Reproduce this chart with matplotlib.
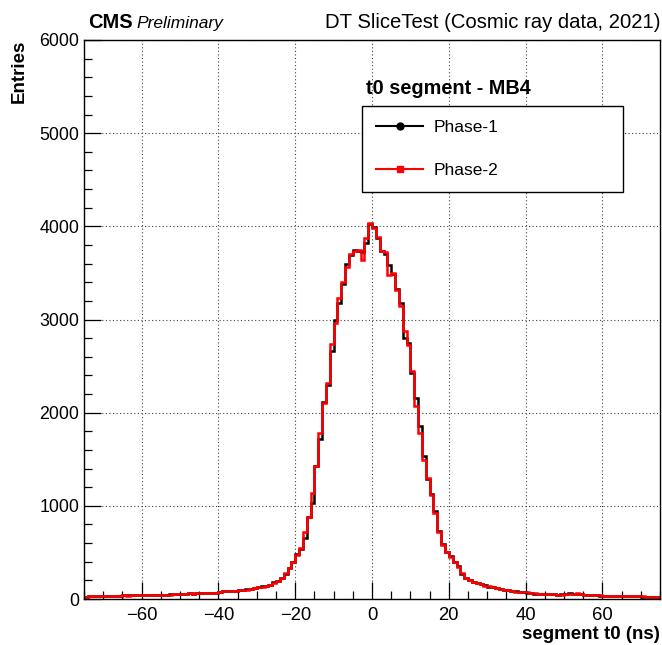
import matplotlib
matplotlib.use("Agg")
import matplotlib.pyplot as plt
import numpy as np
from matplotlib.lines import Line2D
from matplotlib.ticker import MultipleLocator

plt.rcParams["font.family"] = ["Liberation Sans", "DejaVu Sans"]

# bin edges of the segment t0 histogram (1 ns bins, -75 .. 75 ns)
bin_lo = -75
bin_hi = 75

# Phase-2 (red) entries per bin, t = -75 .. 74
phase2_tail_left = [25, 27, 28, 30, 30, 32, 33, 35, 34, 36, 38, 37, 40, 38, 40,
                    40, 42, 41, 44, 45, 43, 47, 48, 50, 52, 55, 58, 60, 58, 62,
                    63, 65, 64, 66, 68,
                    80, 82, 85, 84, 90, 95, 100, 102, 110, 120, 125, 130, 140, 155, 175, 195]
phase2_core = [222, 276, 330, 401, 473, 545, 724, 885, 1136, 1423, 1781, 2104, 2319,
               2740, 2960, 3230, 3400, 3560, 3700, 3740, 3750, 3640, 3880, 4040,
               3980, 3890, 3730, 3720, 3480, 3500, 3320, 3150, 2880, 2730, 2444,
               2068, 1781, 1495, 1297, 1118, 921, 724, 581, 509, 455, 401, 348, 276, 222]
phase2_tail_right = [205, 185, 170, 160, 145, 135, 125, 115, 105, 98, 92, 88, 80, 75,
                     72, 70, 62, 60, 58, 55, 52, 54, 50, 45, 48, 52, 58, 55, 60, 50,
                     48, 45, 42, 44, 38, 35, 36, 32, 30, 33, 28, 27, 30, 32, 29, 27,
                     25, 22, 20, 18]

# Phase-1 (black) entries: same shape, differs in a few bins
phase1_tail_left = [26, 28, 27, 31, 30, 33, 32, 35, 36, 35, 38, 39, 39, 40, 41,
                    40, 43, 42, 43, 46, 44, 46, 49, 50, 53, 54, 57, 61, 59, 61,
                    64, 64, 65, 67, 67,
                    78, 83, 84, 86, 88, 96, 98, 104, 112, 118, 127, 135, 142, 150, 178, 192]
phase1_core = [225, 270, 335, 395, 478, 540, 652, 880, 1030, 1430, 1720, 2110, 2300,
               2660, 2990, 3180, 3380, 3600, 3690, 3750, 3740, 3720, 3820, 4020,
               3990, 3870, 3740, 3700, 3590, 3490, 3330, 3180, 2800, 2750, 2430,
               2161, 1853, 1530, 1290, 1130, 940, 730, 590, 500, 460, 395, 352, 272, 225]
phase1_tail_right = [208, 182, 172, 158, 147, 133, 127, 113, 107, 96, 94, 86, 82, 73,
                     74, 68, 64, 59, 59, 53, 54, 52, 51, 44, 49, 50, 60, 53, 58, 52,
                     47, 46, 41, 45, 37, 36, 35, 33, 29, 34, 27, 28, 29, 31, 30, 26,
                     26, 21, 21, 17]

phase1 = np.array(phase1_tail_left + phase1_core + phase1_tail_right)
phase2 = np.array(phase2_tail_left + phase2_core + phase2_tail_right)
edges = np.arange(bin_lo, bin_hi + 1, 1)

fig = plt.figure(figsize=(6.62, 6.45), dpi=100)
ax = fig.add_axes([0.127, 0.0713, 0.870, 0.8667])

ax.stairs(phase1, edges, color="black", linewidth=1.8)
ax.stairs(phase2, edges, color="#ff0000", linewidth=1.8)

ax.set_xlim(bin_lo, bin_hi)
ax.set_ylim(0, 6000)
ax.xaxis.set_major_locator(MultipleLocator(20))
ax.xaxis.set_minor_locator(MultipleLocator(5))
ax.yaxis.set_major_locator(MultipleLocator(1000))
ax.yaxis.set_minor_locator(MultipleLocator(200))
ax.tick_params(which="both", direction="in", width=0.9, colors="black",
               top=False, right=False)
ax.tick_params(which="major", length=12.5, labelsize=12.8)
ax.tick_params(which="minor", length=6)
ax.tick_params(axis="x", which="major", pad=5.5, labelsize=13.3)
ax.tick_params(axis="y", which="major", pad=3.5)
ax.grid(which="major", color="#444444", linestyle=(0, (1, 2.2)), linewidth=0.8)
ax.set_axisbelow(True)
for sp in ax.spines.values():
    sp.set_linewidth(1.0)

handles = [
    Line2D([], [], color="black", linewidth=1.5, marker="o", markersize=5),
    Line2D([], [], color="#ff0000", linewidth=1.5, marker="s", markersize=5),
]
leg = ax.legend(handles, ["Phase-1", "Phase-2"], loc="upper left",
                bbox_to_anchor=(0.483, 0.72, 0.453, 0.162), mode="expand",
                borderaxespad=0, fontsize=12.5, frameon=True, fancybox=False,
                edgecolor="black", framealpha=1, handlelength=2.7,
                handletextpad=0.6, labelspacing=1.6, borderpad=0.8)
leg.get_frame().set_linewidth(1.0)

ax.text(0.632, 0.913, "t0 segment - MB4", transform=ax.transAxes,
        ha="center", va="center", fontsize=14.3, fontweight="bold")

fig.text(0.133, 0.957, "CMS", fontsize=14.5, fontweight="bold",
         ha="left", va="baseline")
fig.text(0.206, 0.957, "Preliminary", fontsize=12.5, style="italic",
         ha="left", va="baseline")
fig.text(0.997, 0.957, "DT SliceTest (Cosmic ray data, 2021)", fontsize=14.6,
         ha="right", va="baseline")
fig.text(0.029, 0.938, "Entries", rotation=90, fontsize=13.5,
         fontweight="bold", ha="center", va="top")
fig.text(0.997, 0.003, "segment t0 (ns)", fontsize=13.5, fontweight="bold",
         ha="right", va="bottom")

fig.savefig("out.png", dpi=100)
